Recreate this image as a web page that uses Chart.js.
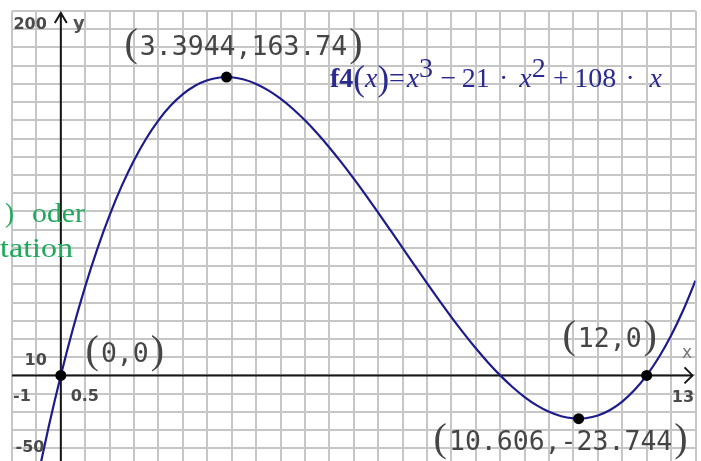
<!DOCTYPE html>
<html>
<head>
<meta charset="utf-8">
<script src="https://cdn.jsdelivr.net/npm/chart.js@4"></script>
<style>
  html, body { margin: 0; padding: 0; overflow: hidden; background: #fff; width: 701px; height: 461px; }
  #wrap { width: 701px; height: 472px; }
</style>
</head>
<body>
<div id="wrap"><canvas id="graph" width="701" height="472"></canvas></div>
<script>
// f4(x) = x^3 - 21x^2 + 108x, sampled every 0.25
const curveX = [-0.5, -0.25, 0, 0.25, 0.5, 0.75, 1, 1.25, 1.5, 1.75, 2, 2.25, 2.5, 2.75, 3, 3.25, 3.3944, 3.5, 3.75,
  4, 4.25, 4.5, 4.75, 5, 5.25, 5.5, 5.75, 6, 6.25, 6.5, 6.75, 7, 7.25, 7.5, 7.75, 8, 8.25, 8.5, 8.75, 9,
  9.25, 9.5, 9.75, 10, 10.25, 10.5, 10.606, 10.75, 11, 11.25, 11.5, 11.75, 12, 12.25, 12.5, 12.75, 13];
const curveY = [-59.375, -28.328, 0, 25.703, 48.875, 69.609, 88, 104.141, 118.125, 130.047, 140, 148.078, 154.375, 158.984, 162, 163.516, 163.74, 163.625, 162.422,
  160, 156.453, 151.875, 146.359, 140, 132.891, 125.125, 116.797, 108, 98.828, 89.375, 79.734, 70, 60.266, 50.625, 41.172, 32, 23.203, 14.875, 7.109, 0,
  -6.359, -11.875, -16.453, -20, -22.422, -23.625, -23.744, -23.516, -22, -18.984, -14.375, -8.078, 0, 9.953, 21.875, 35.859, 52];

// marked points: roots and extrema
const pointX = [0, 3.3944, 12, 10.606];
const pointY = [0, 163.74, 0, -23.744];
const pointLabels = ['0,0', '3.3944,163.74', '12,0', '10.606,-23.744'];

// graph window and grid scale
const xRange = [-1, 13];
const yRange = [-50, 200];
const xStep = 0.5;
const yStep = 10;
const windowLabels = ['200', '-50', '13', '10', '-1', '0.5'];
const axisNames = ['x', 'y'];

const INK = '#1c1c8c';
const GRID = '#c6c6c6';

// where each coordinate label sits relative to its point (dx to text centre, dy to baseline)
const labelOffsets = [[64, -13], [17, -22], [-37, -28], [-18, 31]];

function drawCoordLabel(ctx, cx, base, text) {
  ctx.save();
  ctx.fillStyle = '#454545';
  ctx.font = '26.5px "DejaVu Sans Mono"';
  ctx.textBaseline = 'alphabetic';
  const w = ctx.measureText(text).width;
  const left = cx - w / 2;
  ctx.textAlign = 'left';
  ctx.fillText(text, left, base);
  ctx.font = '40px "Liberation Serif"';
  ctx.textAlign = 'right';
  ctx.fillText('(', left - 2, base + 1);
  ctx.textAlign = 'left';
  ctx.fillText(')', left + w + 2, base + 1);
  ctx.restore();
}

function drawFormula(ctx, x0, base, targetWidth) {
  const reg = '28px "Liberation Serif"';
  const it = 'italic 28px "Liberation Serif"';
  const bold = 'bold 28px "Liberation Serif"';
  const par = '35px "Liberation Serif"';
  // [glyph, font, raise, relative space after]
  const parts = [
    ['f', bold, 0, 0], ['4', bold, 0, 0], ['(', par, 0, 0], ['x', it, 0, 0], [')', par, 0, 0], ['=', reg, 0, 0.1],
    ['x', it, 0, 0], ['3', reg, 10, 0.4], ['\u2212', reg, 0, 0.3], ['2', reg, 0, 0], ['1', reg, 0, 0.5], ['\u00b7', reg, 0, 0.6],
    ['x', it, 0, 0], ['2', reg, 10, 0.4], ['+', reg, 0, 0.3], ['1', reg, 0, 0], ['0', reg, 0, 0], ['8', reg, 0, 0.5], ['\u00b7', reg, 0, 0.8], ['x', it, 0, 0]
  ];
  ctx.save();
  ctx.fillStyle = '#2a2a90';
  ctx.textAlign = 'left';
  ctx.textBaseline = 'alphabetic';
  let total = 0, weights = 0;
  const widths = parts.map(([t, f, , s]) => { ctx.font = f; const w = ctx.measureText(t).width; total += w; weights += s; return w; });
  const unit = Math.max(0, targetWidth - total) / weights;
  let x = x0;
  parts.forEach(([t, f, raise, s], i) => {
    ctx.font = f;
    ctx.fillText(t, x, base - raise + (f === par ? 3 : 0));
    x += widths[i] + s * unit;
  });
  ctx.restore();
}

function drawFitted(ctx, text, x, base, width, font, color) {
  ctx.save();
  ctx.font = font;
  ctx.fillStyle = color;
  ctx.textAlign = 'left';
  ctx.textBaseline = 'alphabetic';
  const w = ctx.measureText(text).width;
  ctx.translate(x, base);
  ctx.scale(width / w, 1);
  ctx.fillText(text, 0, 0);
  ctx.restore();
}

const overlay = {
  id: 'overlay',
  beforeDatasetsDraw(chart) {
    const { ctx, chartArea, scales } = chart;
    const ox = scales.x.getPixelForValue(0);
    const oy = scales.y.getPixelForValue(0);
    ctx.save();
    ctx.strokeStyle = '#161616';
    ctx.lineWidth = 2;
    // y axis with arrow
    const topY = chartArea.top + 2;
    ctx.beginPath();
    ctx.moveTo(ox, chart.height);
    ctx.lineTo(ox, topY);
    ctx.stroke();
    ctx.beginPath();
    ctx.moveTo(ox - 6, topY + 10);
    ctx.lineTo(ox, topY);
    ctx.lineTo(ox + 6, topY + 10);
    ctx.stroke();
    // x axis with arrow
    const tipX = chartArea.right - 3;
    ctx.beginPath();
    ctx.moveTo(chartArea.left, oy);
    ctx.lineTo(tipX, oy);
    ctx.stroke();
    ctx.beginPath();
    ctx.moveTo(tipX - 8, oy - 8);
    ctx.lineTo(tipX, oy);
    ctx.lineTo(tipX - 8, oy + 8);
    ctx.stroke();
    ctx.restore();
  },
  afterDraw(chart) {
    const { ctx, scales } = chart;
    const ox = scales.x.getPixelForValue(0);
    const oy = scales.y.getPixelForValue(0);

    // window and scale labels
    ctx.save();
    ctx.fillStyle = '#4a4a4a';
    ctx.font = 'bold 16px "DejaVu Sans"';
    ctx.textBaseline = 'middle';
    ctx.textAlign = 'right';
    ctx.fillText(windowLabels[0], ox - 14, 25);
    ctx.textAlign = 'center';
    ctx.fillText(windowLabels[1], 30, 448);
    ctx.fillText(windowLabels[2], 683, oy + 22);
    ctx.textAlign = 'right';
    ctx.fillText(windowLabels[3], ox - 14, oy - 15);
    ctx.textAlign = 'left';
    ctx.fillText(windowLabels[4], 13, oy + 21);
    ctx.textAlign = 'center';
    ctx.fillText(windowLabels[5], ox + 24, oy + 21);
    ctx.font = 'bold 18px "DejaVu Sans"';
    ctx.fillStyle = '#555';
    ctx.fillText(axisNames[1], ox + 18, 24);
    ctx.font = '17px "DejaVu Sans"';
    ctx.fillStyle = '#777';
    ctx.fillText(axisNames[0], 687, oy - 22);
    ctx.restore();

    // coordinate labels of the marked points
    pointX.forEach((px, i) => {
      const cx = scales.x.getPixelForValue(px) + labelOffsets[i][0];
      const by = scales.y.getPixelForValue(pointY[i]) + labelOffsets[i][1];
      drawCoordLabel(ctx, cx, by, pointLabels[i]);
    });

    // function definition
    drawFormula(ctx, 330, 87, 332);

    // text of the surrounding page showing through at the left edge
    const green = '#1da85a';
    ctx.save();
    ctx.font = '27px "Liberation Serif"';
    ctx.fillStyle = green;
    ctx.textBaseline = 'alphabetic';
    ctx.fillText(')', 5, 222);
    ctx.restore();
    drawFitted(ctx, 'oder', 32, 222, 53, '27px "Liberation Serif"', green);
    drawFitted(ctx, 'tation', 0, 257, 73, '27px "Liberation Serif"', green);
  }
};

new Chart(document.getElementById('graph'), {
  type: 'scatter',
  data: {
    datasets: [
      {
        data: pointX.map((x, i) => ({ x, y: pointY[i] })),
        pointRadius: 5.5,
        pointBackgroundColor: '#000',
        pointBorderWidth: 0,
        showLine: false,
        order: 1
      },
      {
        data: curveX.map((x, i) => ({ x, y: curveY[i] })),
        showLine: true,
        borderColor: INK,
        borderWidth: 2.2,
        pointRadius: 0,
        cubicInterpolationMode: 'monotone',
        order: 2
      }
    ]
  },
  options: {
    responsive: false,
    animation: false,
    devicePixelRatio: 1,
    layout: { padding: { left: 12, right: 3, top: 11, bottom: 2 } },
    plugins: { legend: { display: false }, tooltip: { enabled: false } },
    scales: {
      x: {
        type: 'linear', min: xRange[0], max: xRange[1],
        ticks: { display: false, stepSize: xStep, maxTicksLimit: 200 },
        grid: { color: GRID, lineWidth: 2, drawTicks: false },
        border: { display: false }
      },
      y: {
        type: 'linear', min: yRange[0], max: yRange[1],
        ticks: { display: false, stepSize: yStep, maxTicksLimit: 200 },
        grid: { color: GRID, lineWidth: 2, drawTicks: false },
        border: { display: false }
      }
    }
  },
  plugins: [overlay]
});
</script>
</body>
</html>
